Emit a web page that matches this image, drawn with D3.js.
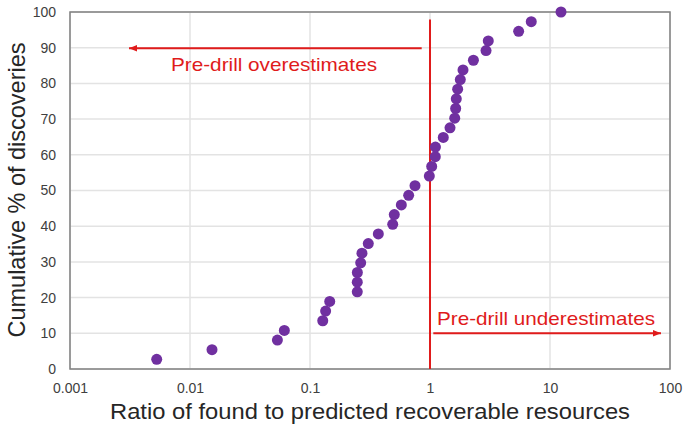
<!DOCTYPE html>
<html><head><meta charset="utf-8">
<script src="https://cdn.jsdelivr.net/npm/d3@7"></script>
<style>body{margin:0;background:#fff}svg{display:block;font-family:Arial,"Liberation Sans",sans-serif}</style>
</head><body><svg id="c" width="685" height="427"></svg>
<script>
const ratios=[0.00528,0.01525,0.0535,0.0611,0.1277,0.135,0.146,0.2477,0.2477,0.248,0.2645,0.271,0.306,0.371,0.489,0.504,0.577,0.664,0.75,0.987,1.033,1.107,1.11,1.29,1.468,1.607,1.637,1.656,1.70,1.789,1.884,2.30,2.93,3.06,5.48,6.98,12.35];
const cumulative=ratios.map((d,i)=>(i+1)/ratios.length*100);
const xTicks=[0.001,0.01,0.1,1,10,100];
const xTickLabels=["0.001","0.01","0.1","1","10","100"];
const yTicks=[0,10,20,30,40,50,60,70,80,90,100];

const svg=d3.select("#c");
const L=70,R=670,T=12,B=369;
const x=d3.scaleLog().domain([0.001,100]).range([L,R]);
const y=d3.scaleLinear().domain([0,100]).range([B,T]);

// grid
svg.append("g").selectAll("line").data(yTicks).join("line")
 .attr("x1",L).attr("x2",R).attr("y1",d=>y(d)).attr("y2",d=>y(d))
 .attr("stroke","#e3e3e3").attr("stroke-width",1.5);
svg.append("g").selectAll("line").data(xTicks).join("line")
 .attr("y1",T).attr("y2",B).attr("x1",d=>x(d)).attr("x2",d=>x(d))
 .attr("stroke","#e3e3e3").attr("stroke-width",1.5);

// frame
svg.append("rect").attr("x",L).attr("y",T).attr("width",R-L).attr("height",B-T)
 .attr("fill","none").attr("stroke","#808080").attr("stroke-width",1.5);

// axes labels
const xAxis=d3.axisBottom(x).tickValues(xTicks).tickFormat((d,i)=>xTickLabels[i]).tickSize(0).tickPadding(14);
const gx=svg.append("g").attr("transform",`translate(0,${B})`).call(xAxis);
gx.select(".domain").remove();
gx.selectAll("text").attr("font-size",14).attr("fill","#404040").attr("font-family","Arial, Liberation Sans, sans-serif");
const yAxis=d3.axisLeft(y).tickValues(yTicks).tickFormat(d3.format("d")).tickSize(0).tickPadding(14);
const gy=svg.append("g").attr("transform",`translate(${L},0)`).call(yAxis);
gy.select(".domain").remove();
gy.selectAll("text").attr("font-size",14).attr("fill","#404040").attr("font-family","Arial, Liberation Sans, sans-serif");

// titles
svg.append("text").attr("x",(L+R)/2).attr("y",419).attr("text-anchor","middle")
 .attr("font-size",22).attr("fill","#262626")
 .attr("textLength",520).attr("lengthAdjust","spacingAndGlyphs")
 .text("Ratio of found to predicted recoverable resources");
svg.append("text").attr("transform",`translate(24.5,190) rotate(-90)`).attr("text-anchor","middle")
 .attr("font-size",24).attr("fill","#262626")
 .attr("textLength",295).attr("lengthAdjust","spacingAndGlyphs")
 .text("Cumulative % of discoveries");

// red vertical line at 1
const red="#e01b1b";
svg.append("line").attr("x1",x(1)).attr("x2",x(1)).attr("y1",19.5).attr("y2",B)
 .attr("stroke",red).attr("stroke-width",2);

// arrows
const defs=svg.append("defs");
defs.append("marker").attr("id","ah").attr("viewBox","0 0 10 10").attr("refX",10).attr("refY",5)
 .attr("markerWidth",4).attr("markerHeight",4).attr("orient","auto-start-reverse").attr("markerUnits","strokeWidth")
 .append("path").attr("d","M0,1 L10,5 L0,9 z").attr("fill",red);
svg.append("line").attr("x1",421.7).attr("x2",129).attr("y1",48.3).attr("y2",48.3)
 .attr("stroke",red).attr("stroke-width",2).attr("marker-end","url(#ah)");
svg.append("line").attr("x1",433.3).attr("x2",661).attr("y1",333.3).attr("y2",333.3)
 .attr("stroke",red).attr("stroke-width",2).attr("marker-end","url(#ah)");
svg.append("text").attr("x",171).attr("y",71).attr("font-size",19).attr("fill",red)
 .attr("textLength",206).attr("lengthAdjust","spacingAndGlyphs").text("Pre-drill overestimates");
svg.append("text").attr("x",437).attr("y",325).attr("font-size",19).attr("fill",red)
 .attr("textLength",218).attr("lengthAdjust","spacingAndGlyphs").text("Pre-drill underestimates");

// points
svg.append("g").selectAll("circle").data(ratios).join("circle")
 .attr("cx",d=>x(d)).attr("cy",(d,i)=>y(cumulative[i])).attr("r",5.5).attr("fill","#7030a0");
</script></body></html>
